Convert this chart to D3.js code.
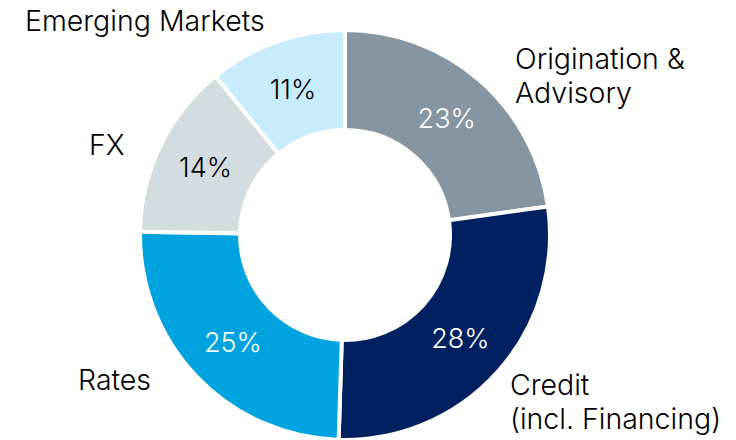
<!DOCTYPE html>
<html>
<head>
<meta charset="utf-8">
<script src="https://cdn.jsdelivr.net/npm/d3@7"></script>
<style>
    body { margin: 0; background: #fff; }
    svg text { font-family: Inter, "Noto Sans", sans-serif; font-weight: 300; }
</style>
</head>
<body>
<div id="Donut"></div>
<script>
// Data (shares of revenue, in %)
var categories = ["Origination & Advisory", "Credit (incl. Financing)", "Rates", "FX", "Emerging Markets"];
var shares = [23, 28, 25, 14, 11];
// Outer labels, broken into lines as in the picture
var labelLines = [["Origination &", "Advisory"], ["Credit", "(incl. Financing)"], ["Rates"], ["FX"], ["Emerging Markets"]];
var colours = ["#8795a1", "#002060", "#00a3e0", "#d5dce0", "#c8ecfb"];
var pctColours = ["#fff", "#fff", "#fff", "#000", "#000"];

var width = 736, height = 440;
var cx = 345, cy = 235;
var outerR = 205, innerR = 105;

// where each outer label block starts (left x, first baseline)
var labelPos = [[515, 69], [510, 395], [78, 390], [89, 155], [25, 31]];

var svg = d3.select("#Donut")
    .append("svg")
    .attr("width", width)
    .attr("height", height);

var g = svg.append("g")
    .attr("transform", "translate(" + cx + "," + cy + ")");

var data = categories.map(function (c, i) {
    return {key: c, value: shares[i], idx: i};
});

var pie = d3.pie()
    .sort(null)
    .value(function (d) { return d.value; });

var arc = d3.arc()
    .innerRadius(innerR)
    .outerRadius(outerR);

// centroid radius for the % labels
var midArc = d3.arc()
    .innerRadius(155)
    .outerRadius(155);

var slices = g.selectAll(".slice")
    .data(pie(data))
    .enter();

slices.append("path")
    .attr("d", arc)
    .style("fill", function (d) { return colours[d.data.idx]; })
    .style("stroke", "#fff")
    .style("stroke-width", 4);

slices.append("text")
    .attr("transform", function (d) { return "translate(" + midArc.centroid(d) + ")"; })
    .attr("text-anchor", "middle")
    .attr("dy", "0.36em")
    .style("font-size", "27px")
    .style("fill", function (d) { return pctColours[d.data.idx]; })
    .text(function (d) { return d.data.value + "%"; });

// outer category labels
labelLines.forEach(function (lines, i) {
    var t = svg.append("text")
        .attr("x", labelPos[i][0])
        .attr("y", labelPos[i][1])
        .style("font-size", "28.5px")
        .style("fill", "#000");
    lines.forEach(function (line, j) {
        t.append("tspan")
            .attr("x", labelPos[i][0])
            .attr("dy", j === 0 ? 0 : 34)
            .text(line);
    });
});
</script>
</body>
</html>
